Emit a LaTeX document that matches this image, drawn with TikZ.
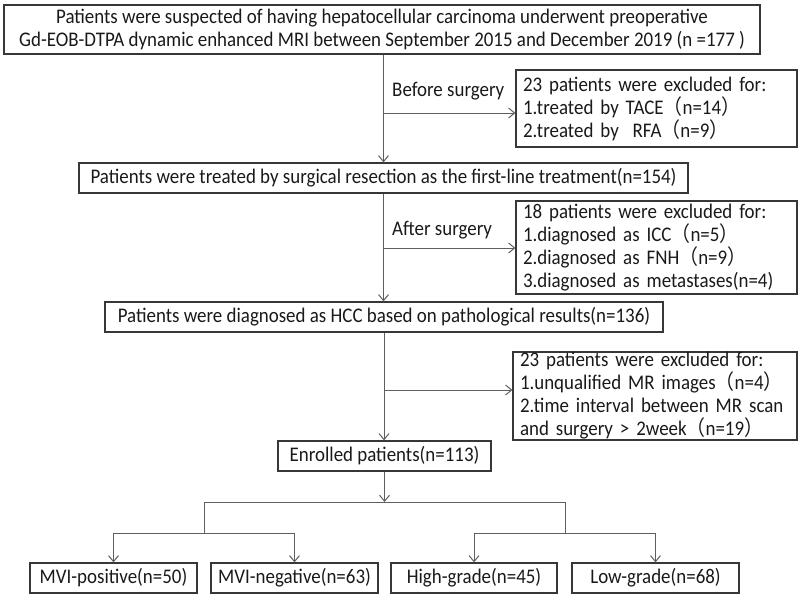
\documentclass[tikz,border=0pt]{standalone}
\usepackage{fontspec}
\setmainfont[FakeStretch=0.91]{Carlito}
\newfontfamily\cjk[FakeStretch=0.91]{Noto Sans CJK SC}
\usetikzlibrary{arrows.meta}
\definecolor{boxc}{RGB}{55,55,55}
\definecolor{linec}{RGB}{95,95,95}
\newcommand{\fl}{{\cjk （}}
\newcommand{\fr}{{\cjk ）}}
\begin{document}
\begin{tikzpicture}[x=1pt,y=-1pt,
  txt/.style={font=\fontsize{20.8}{23}\selectfont, text=black!90},
  box/.style={txt, draw=boxc, line width=1.3pt, inner sep=0pt, align=center},
  exbox/.style={txt, draw=boxc, line width=1.3pt, inner xsep=7pt, inner ysep=0pt, align=left},
  conn/.style={draw=linec, line width=1pt},
  arr/.style={conn, -{Straight Barb[length=6pt,width=10pt,line width=1pt]}}
]
\useasboundingbox (0,0) rectangle (800,594);
% main boxes
\node[box, minimum width=756pt, minimum height=49pt] (top) at (382,29.5)
  {Patients were suspected of having hepatocellular carcinoma underwent preoperative\\
   Gd-EOB-DTPA dynamic enhanced MRI between September 2015 and December 2019 (n =177 )};
\node[box, minimum width=609pt, minimum height=30pt] (box2) at (383.5,178)
  {Patients were treated by surgical resection as the first-line treatment(n=154)};
\node[box, minimum width=558pt, minimum height=30pt] (box3) at (384,317)
  {Patients were diagnosed as HCC based on pathological results(n=136)};
\node[box, minimum width=213pt, minimum height=30pt] (enr) at (384.5,456)
  {Enrolled patients(n=113)};
% exclusion boxes
\node[exbox, text width=267pt, minimum height=77pt] (ex1) at (656.5,108.5)
  {23 patients were excluded for:\\
   1.treated by TACE\fl n=14\fr\\
   2.treated by\ \ RFA\fl n=9\fr};
\node[exbox, text width=267pt, minimum height=93pt] (ex2) at (656.5,247.5)
  {18 patients were excluded for:\\
   1.diagnosed as ICC\fl n=5\fr\\
   2.diagnosed as FNH\fl n=9\fr\\
   3.diagnosed as metastases(n=4)};
\node[exbox, text width=270pt, minimum height=88pt] (ex3) at (655,396)
  {23 patients were excluded for:\\
   1.unqualified MR images\fl n=4\fr\\
   2.time interval between MR scan\\
   and surgery > 2week\fl n=19\fr};
% labels
\node[txt, anchor=west, inner sep=0pt] (lb1) at (392,91) {Before surgery};
\node[txt, anchor=west, inner sep=0pt] (lb2) at (392,230) {After surgery};
% bottom boxes
\node[box, minimum width=167pt, minimum height=30pt] (b1) at (113.5,578) {MVI-positive(n=50)};
\node[box, minimum width=167pt, minimum height=30pt] (b2) at (294.5,578) {MVI-negative(n=63)};
\node[box, minimum width=166pt, minimum height=30pt] (b3) at (474,578) {High-grade(n=45)};
\node[box, minimum width=167pt, minimum height=30pt] (b4) at (655.5,578) {Low-grade(n=68)};
% junction coordinates
\coordinate (j1) at (384,113);
\coordinate (j2) at (384,248);
\coordinate (j3) at (384,390);
\coordinate (sL) at (204,502);
\coordinate (sR) at (565,502);
\coordinate (hL) at (204,533);
\coordinate (hR) at (565,533);
% connectors
\draw[arr] (top.south -| box2.north) -- (box2.north);
\draw[arr] (box2.south) -- (box2.south |- box3.north);
\draw[arr] (box3.south) -- (box3.south |- enr.north);
\draw[arr] (enr.south) -- (enr.south |- sL);
\draw[arr] (j1) -- (j1 -| ex1.west);
\draw[arr] (j2) -- (j2 -| ex2.west);
\draw[arr] (j3) -- (j3 -| ex3.west);
\draw[conn] (sL) -- (sR);
\draw[conn] (sL) -- (hL);
\draw[conn] (sR) -- (hR);
\draw[conn] (b1.north |- hL) -- (b2.north |- hL);
\draw[conn] (b3.north |- hR) -- (b4.north |- hR);
\draw[arr] (b1.north |- hL) -- (b1.north);
\draw[arr] (b2.north |- hL) -- (b2.north);
\draw[arr] (b3.north |- hR) -- (b3.north);
\draw[arr] (b4.north |- hR) -- (b4.north);
\end{tikzpicture}
\end{document}
